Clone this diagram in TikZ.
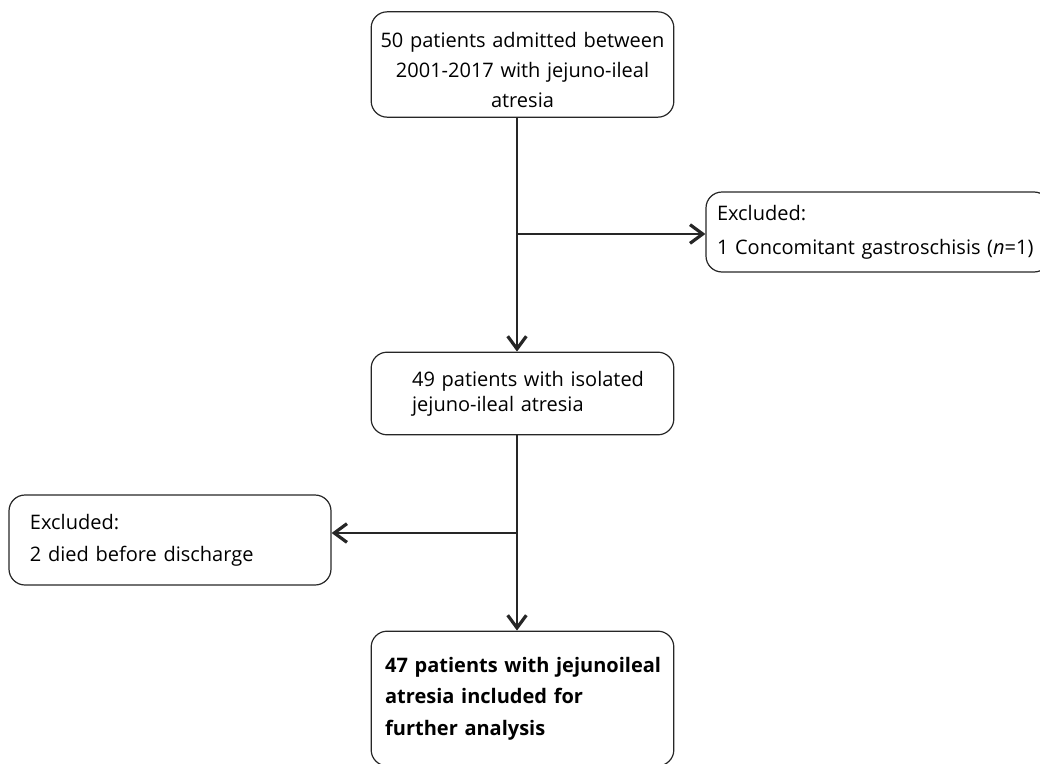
\documentclass[tikz,border=0pt]{standalone}
\usepackage{fontspec}
\setmainfont{Open Sans}
\usetikzlibrary{arrows.meta}
\tikzset{
  stage/.style={draw=black!85, line width=0.9pt, rounded corners=12pt, inner ysep=0pt},
  flow/.style={line width=1.5pt, black!85},
  flowarrow/.style={flow, -{Straight Barb[length=9.5pt,width=14pt,line width=2.4pt]}}
}
\begin{document}
\begin{tikzpicture}[x=0.75pt,y=-0.75pt]
                  \useasboundingbox (0,0) rectangle (1040,764);
                  \clip (0,0) rectangle (1040,764);

                  % main column
                  \node[stage, minimum width=227pt, minimum height=79pt, inner xsep=0pt,
                        text width=227pt, align=center, font=\fontsize{15}{22.5}\selectfont]
                        (top) at (522.5,64.5)
                        {\rule{0pt}{20pt}50 patients admitted between\\2001-2017 with jejuno-ileal\\atresia};
                  \node[stage, minimum width=227pt, minimum height=62pt, inner xsep=30.75pt,
                        text width=165.5pt, align=left, font=\fontsize{15}{18.75}\selectfont]
                        (mid) at (522.5,393.5)
                        {\mbox{49 patients with isolated}\\\mbox{jejuno-ileal atresia}};
                  \node[stage, minimum width=227pt, minimum height=101pt, inner xsep=10.5pt,
                        text width=206pt, align=left, font=\fontsize{15}{23.6}\selectfont\bfseries]
                        (final) at (522.5,698.5)
                        {\mbox{47 patients with jejunoileal}\\\mbox{atresia included for}\\\mbox{further analysis}};

                  % exclusions
                  \node[stage, minimum width=258pt, minimum height=60pt, inner xsep=8.25pt,
                        text width=241.5pt, align=left, font=\fontsize{15}{25.5}\selectfont]
                        (excl1) at (878,232)
                        {Excluded:\\\mbox{1 Concomitant gastroschisis (\textit{n}=1)}};
                  \node[stage, minimum width=241.5pt, minimum height=67.5pt, inner xsep=15.75pt,
                        text width=210pt, align=left, font=\fontsize{15}{24}\selectfont]
                        (excl2) at (170,540)
                        {Excluded:\\\mbox{2 died before discharge}};

                  % connectors
                  \coordinate (j1) at (517,234);
                  \coordinate (j2) at (517,533);
                  \draw[flow] (top.south -| j1) -- (j1);
                  \draw[flowarrow] (j1) -- (j1 -| excl1.west);
                  \draw[flowarrow] (j1) -- (mid.north -| j1);
                  \draw[flow] (mid.south -| j2) -- (j2);
                  \draw[flowarrow] (j2) -- (j2 -| excl2.east);
                  \draw[flowarrow] (j2) -- (final.north -| j2);
              \end{tikzpicture}
\end{document}
